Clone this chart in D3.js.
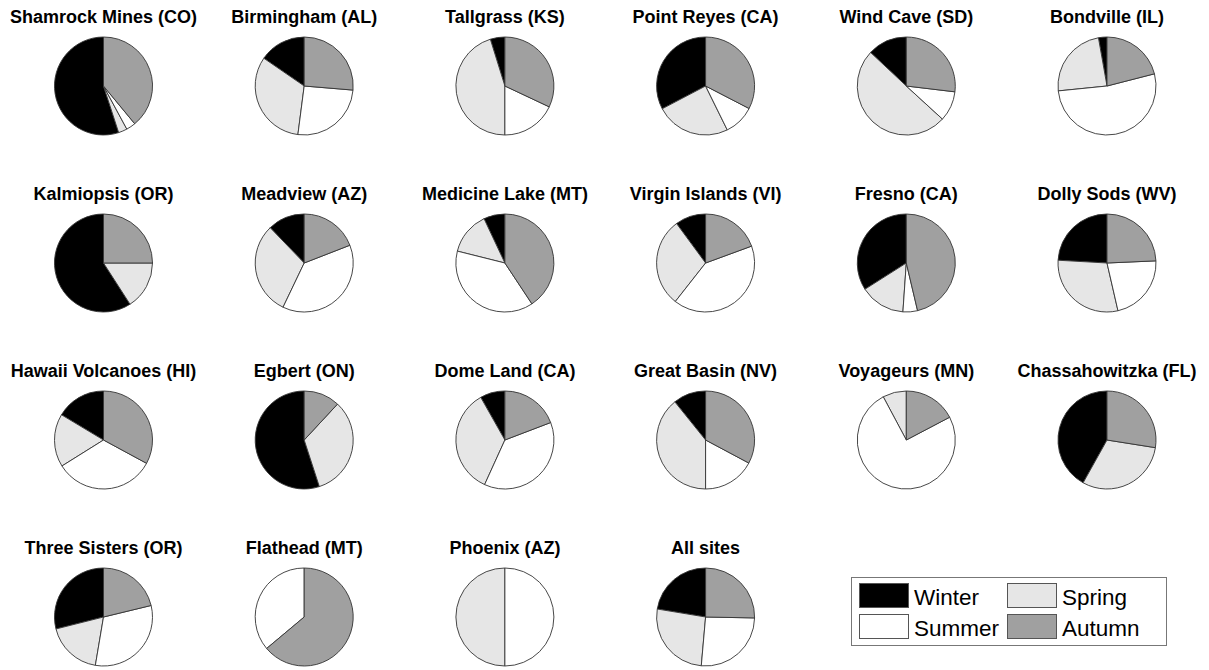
<!DOCTYPE html>
<html>
<head>
<meta charset="utf-8">
<script src="https://cdn.jsdelivr.net/npm/d3@7/dist/d3.min.js"></script>
<style>
  html, body { margin: 0; padding: 0; background: #fff; }
  svg { display: block; }
  text { font-family: "Liberation Sans", Arial, Helvetica, sans-serif; }
</style>
</head>
<body>
<svg id="chart" width="1209" height="670"></svg>
<script>
// Seasonal share (%) per site
const sites = [
  "Shamrock Mines (CO)", "Birmingham (AL)", "Tallgrass (KS)", "Point Reyes (CA)", "Wind Cave (SD)", "Bondville (IL)",
  "Kalmiopsis (OR)", "Meadview (AZ)", "Medicine Lake (MT)", "Virgin Islands (VI)", "Fresno (CA)", "Dolly Sods (WV)",
  "Hawaii Volcanoes (HI)", "Egbert (ON)", "Dome Land (CA)", "Great Basin (NV)", "Voyageurs (MN)", "Chassahowitzka (FL)",
  "Three Sisters (OR)", "Flathead (MT)", "Phoenix (AZ)", "All sites"
];
const seasons = ["Winter", "Spring", "Summer", "Autumn"];
const winter = [55.0, 15.4, 4.8, 32.7, 13.0, 2.8, 59.1, 12.2, 7.0, 10.1, 34.0, 24.1, 16.4, 55.0, 8.2, 10.8, 0, 41.9, 28.9, 0, 0, 22.4];
const spring = [2.9, 32.5, 45.2, 24.6, 50.2, 23.8, 15.9, 30.7, 14.1, 29.3, 14.9, 29.5, 17.5, 33.1, 35.0, 39.2, 7.8, 30.6, 18.4, 0, 50, 26.2];
const summer = [3.1, 25.7, 18.0, 10.1, 9.9, 52.4, 0, 38.0, 38.2, 41.2, 4.8, 22.1, 33.2, 0, 37.6, 17.2, 74.9, 0, 31.4, 36.1, 50, 26.1];
const autumn = [39.0, 26.3, 32.0, 32.6, 26.9, 21.0, 25.0, 19.1, 40.7, 19.4, 46.3, 24.3, 32.9, 11.9, 19.2, 32.8, 17.3, 27.5, 21.2, 63.9, 0, 25.3];

const seriesBySeason = { Winter: winter, Spring: spring, Summer: summer, Autumn: autumn };

const svg = d3.select("#chart");

const nCols = 6, nRows = 4;
const colScale = d3.scalePoint().domain(d3.range(nCols)).range([103.5, 1107]);
const rowScale = d3.scalePoint().domain(d3.range(nRows)).range([86, 617]);
const fill = d3.scaleOrdinal().domain(seasons).range(["#000000", "#e6e6e6", "#ffffff", "#a0a0a0"]);

const radius = 49;
// Slices run counterclockwise from 12 o'clock in season order
const pie = d3.pie().sort(null).value(d => d.value).startAngle(0).endAngle(-2 * Math.PI);
const arc = d3.arc().innerRadius(0).outerRadius(radius);

sites.forEach((name, i) => {
  const cx = colScale(i % nCols), cy = rowScale(Math.floor(i / nCols));
  const g = svg.append("g").attr("transform", `translate(${cx},${cy})`);
  const data = seasons.map(s => ({ season: s, value: seriesBySeason[s][i] })).filter(d => d.value > 0);
  g.selectAll("path")
    .data(pie(data))
    .join("path")
    .attr("d", arc)
    .attr("fill", d => fill(d.data.season))
    .attr("stroke", "#333")
    .attr("stroke-width", 0.9)
    .attr("stroke-linejoin", "round");
  g.append("text")
    .attr("x", 0)
    .attr("y", -63)
    .attr("text-anchor", "middle")
    .attr("font-size", 18)
    .attr("font-weight", "bold")
    .attr("fill", "#000")
    .text(name);
});

// Legend
const legend = svg.append("g").attr("transform", "translate(851,577)");
legend.append("rect")
  .attr("x", 0.5).attr("y", 0.5).attr("width", 315).attr("height", 68)
  .attr("fill", "#fff").attr("stroke", "#777").attr("stroke-width", 1);
const legendOrder = ["Winter", "Spring", "Summer", "Autumn"];
legendOrder.forEach((s, k) => {
  const col = k % 2, row = Math.floor(k / 2);
  const x = 8 + col * 148, y = 6 + row * 31;
  legend.append("rect")
    .attr("x", x + 0.5).attr("y", y + 0.5).attr("width", 49).attr("height", 24)
    .attr("fill", fill(s)).attr("stroke", "#555").attr("stroke-width", 1);
  legend.append("text")
    .attr("x", x + 55).attr("y", y + 22)
    .attr("font-size", 22.5)
    .attr("fill", "#000")
    .text(s);
});
</script>
</body>
</html>
